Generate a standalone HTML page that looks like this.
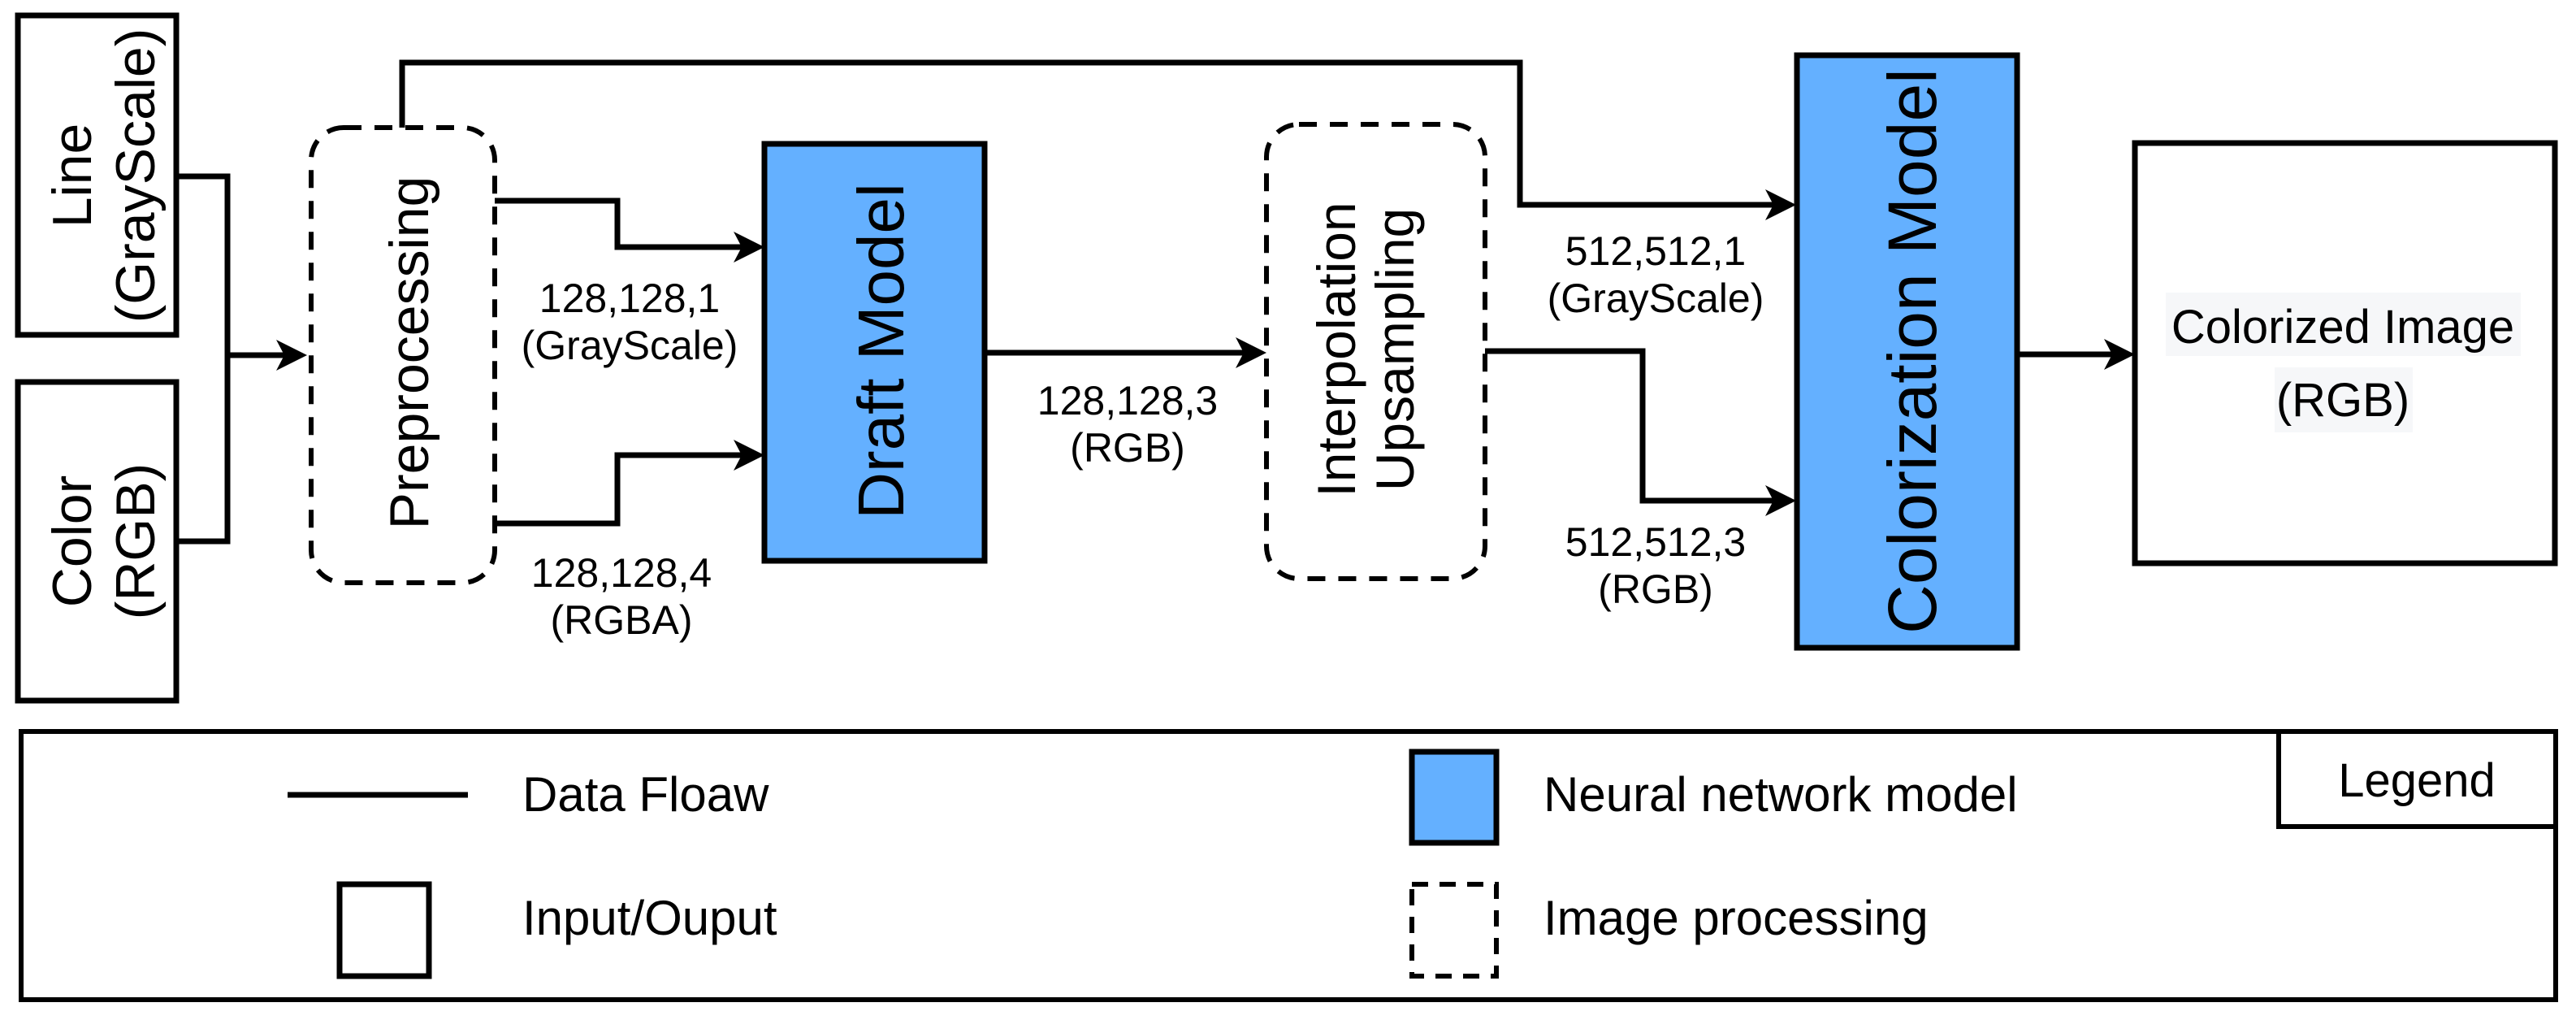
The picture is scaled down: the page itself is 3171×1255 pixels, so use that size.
<!DOCTYPE html>
<html><head><meta charset="utf-8"><style>
html,body{margin:0;padding:0;background:#fff}
svg{display:block}
text{font-family:"Liberation Sans",sans-serif;fill:#000}
.n{font-size:50px}
</style></head><body>
<svg width="3171" height="1255" viewBox="0 0 3171 1255" xmlns="http://www.w3.org/2000/svg">
<g fill="none" stroke="#000" stroke-width="7">
<rect x="22" y="19" width="195" height="393"/>
<rect x="22" y="470" width="195" height="392"/>
<polyline points="217,217 280,217 280,666 217,666"/>
<line x1="280" y1="437" x2="360" y2="437"/>
<polyline points="495,157 495,77 1871,77 1871,252 2190,252"/>
<polyline points="609,247 760,247 760,304 920,304"/>
<polyline points="609,644 760,644 760,560 920,560"/>
<line x1="1212" y1="434" x2="1540" y2="434"/>
<polyline points="1828,432 2022,432 2022,616 2190,616"/>
<line x1="2483" y1="436" x2="2610" y2="436"/>
<rect x="2628" y="176" width="517" height="517"/>
</g>
<g fill="#000">
<polygon points="378,437 340,418 350,437 340,456"/>
<polygon points="941,304 903,285 913,304 903,323"/>
<polygon points="941,560 903,541 913,560 903,579"/>
<polygon points="1559,434 1521,415 1531,434 1521,453"/>
<polygon points="2211,252 2173,233 2183,252 2173,271"/>
<polygon points="2211,616 2173,597 2183,616 2173,635"/>
<polygon points="2628,436 2590,417 2600,436 2590,455"/>
</g>
<rect x="383" y="157" width="226" height="560" rx="40" fill="none" stroke="#000" stroke-width="6" stroke-dasharray="22,16"/>
<rect x="1559" y="153" width="269" height="559" rx="40" fill="none" stroke="#000" stroke-width="6" stroke-dasharray="22,16"/>
<rect x="941" y="177" width="271" height="513" fill="#64b0ff" stroke="#000" stroke-width="7"/>
<rect x="2212" y="68" width="271" height="729" fill="#64b0ff" stroke="#000" stroke-width="7"/>
<!-- vertical texts -->
<text transform="translate(112,216) rotate(-90)" text-anchor="middle" font-size="68">Line</text>
<text transform="translate(190,216) rotate(-90)" text-anchor="middle" font-size="68">(GrayScale)</text>
<text transform="translate(112,666) rotate(-90)" text-anchor="middle" font-size="68">Color</text>
<text transform="translate(190,666) rotate(-90)" text-anchor="middle" font-size="68">(RGB)</text>
<text transform="translate(527,434) rotate(-90)" text-anchor="middle" font-size="68">Preprocessing</text>
<text transform="translate(1112,432) rotate(-90)" text-anchor="middle" font-size="80">Draft Model</text>
<text transform="translate(1668,430) rotate(-90)" text-anchor="middle" font-size="66">Interpolation</text>
<text transform="translate(1740,430) rotate(-90)" text-anchor="middle" font-size="66">Upsampling</text>
<text transform="translate(2383,432) rotate(-90)" text-anchor="middle" font-size="84">Colorization Model</text>
<!-- labels -->
<g text-anchor="middle" class="n">
<text x="775" y="384">128,128,1</text>
<text x="775" y="442">(GrayScale)</text>
<text x="765" y="722">128,128,4</text>
<text x="765" y="780">(RGBA)</text>
<text x="1388" y="510">128,128,3</text>
<text x="1388" y="568">(RGB)</text>
<text x="2038" y="326">512,512,1</text>
<text x="2038" y="384">(GrayScale)</text>
<text x="2038" y="684">512,512,3</text>
<text x="2038" y="742">(RGB)</text>
</g>
<rect x="2666" y="360" width="437" height="78" fill="#f6f7f9"/>
<rect x="2800" y="452" width="170" height="80" fill="#f6f7f9"/>
<text x="2884" y="422" text-anchor="middle" font-size="58">Colorized Image</text>
<text x="2884" y="512" text-anchor="middle" font-size="58">(RGB)</text>
<!-- legend -->
<rect x="26" y="900" width="3120" height="330" fill="none" stroke="#000" stroke-width="6"/>
<rect x="2805" y="900" width="341" height="117" fill="none" stroke="#000" stroke-width="6"/>
<text x="2975" y="980" text-anchor="middle" font-size="58">Legend</text>
<line x1="354" y1="978" x2="576" y2="978" stroke="#000" stroke-width="7"/>
<text x="643" y="998" font-size="60">Data Floaw</text>
<rect x="1738" y="925" width="104" height="112" fill="#64b0ff" stroke="#000" stroke-width="7"/>
<text x="1900" y="998" font-size="60">Neural network model</text>
<rect x="418" y="1088" width="110" height="113" fill="none" stroke="#000" stroke-width="7"/>
<text x="643" y="1150" font-size="60">Input/Ouput</text>
<rect x="1738" y="1088" width="104" height="113" fill="none" stroke="#000" stroke-width="6" stroke-dasharray="20,14"/>
<text x="1900" y="1150" font-size="60">Image processing</text>
</svg>
</body></html>
